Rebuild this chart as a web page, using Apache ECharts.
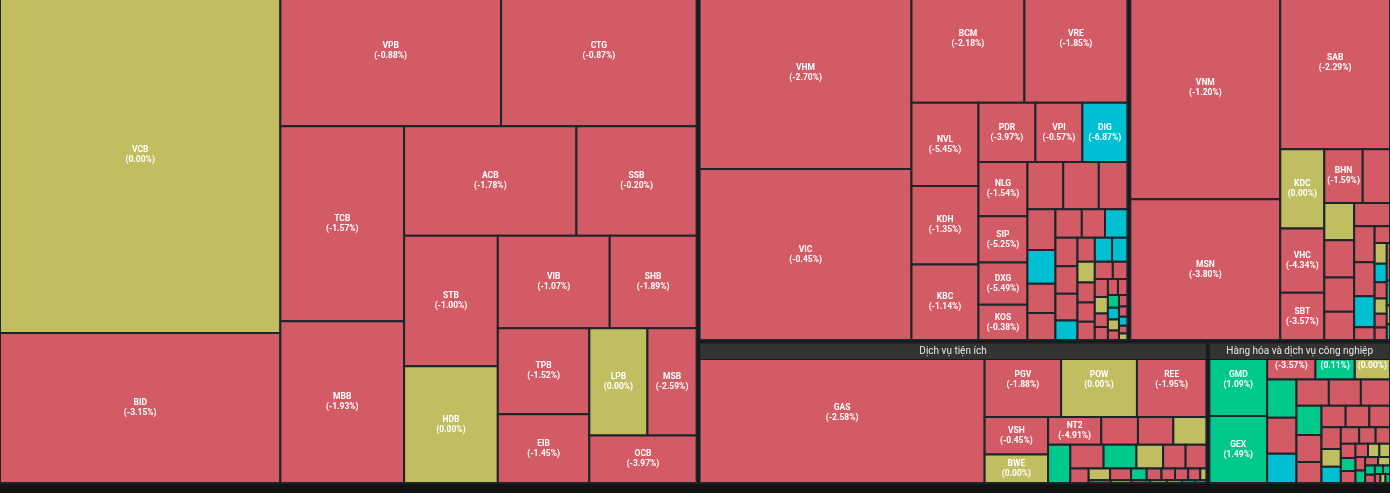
<!DOCTYPE html>
<html>
<head>
<meta charset="utf-8">
<script src="https://cdn.jsdelivr.net/npm/echarts@6.0.0/dist/echarts.min.js"></script>
<style>
html,body{margin:0;padding:0;background:#131313;}
#chart{width:1390px;height:493px;}
</style>
</head>
<body>
<div id="chart"></div>
<script>
// ---------------- DATA (sizes in arbitrary units, change in %) ----------------
// null name = cell too small to carry a label; '' = name hidden under the group header
const bankNames   = ['VCB','BID','VPB','CTG','TCB','MBB','ACB','SSB','STB','HDB','VIB','SHB','TPB','EIB','LPB','MSB','OCB'];
const bankValues  = [99600,41850,33000,29250,23990,19930,18750,13080,12180,10880,10300,8000,7850,6250,6200,5250,5080];
const bankChanges = [0.00,-3.15,-0.88,-0.87,-1.57,-1.93,-1.78,-0.20,-1.00,0.00,-1.07,-1.89,-1.52,-1.45,0.00,-2.59,-3.97];

const reNames   = ['VHM','VIC','BCM','VRE','NVL','KDH','KBC','PDR','VPI','DIG','NLG','SIP','DXG','KOS',
  null,null,null,null,null,null,null,null,null,null,null,null,null,null,null,null,null,null,null,
  null,null,null,null,null,null,null,null,null,null,null,null,null,null,null,null,null,null,null];
const reValues  = [40700,36040,14240,12980,5560,5230,5030,3360,2770,2655,2645,2250,2060,1715,
  1680,1670,1340,1135,940,815,755,750,660,635,625,600,585,430,415,410,365,360,345,330,315,310,
  250,235,215,175,170,160,150,140,130,120,105,95,85,75,65,55];
const reChanges = [-2.70,-0.45,-2.18,-1.85,-5.45,-1.35,-1.14,-3.97,-0.57,-6.87,-1.54,-5.25,-5.49,-0.38,
  -2.10,-1.35,-3.20,-0.95,-6.95,-2.60,-1.80,-4.10,-0.70,-6.90,-2.25,-1.10,-3.45,-6.98,-1.65,-6.92,-6.94,0.00,-2.80,-0.60,-1.95,-3.70,
  -1.25,-2.40,0.00,-0.85,-4.60,-1.40,-2.95,0.85,-6.90,0.00,-1.75,-3.05,-0.55,-6.93,-2.20,0.00];

const foodNames   = ['VNM','MSN','SAB','KDC','VHC','SBT','BHN',
  null,null,null,null,null,null,null,null,null,null,null,null,null,null,null,null,null,null,null,null,null];
const foodValues  = [33300,21000,18920,3476,2816,2068,2052,
  1458,1110,1100,1020,840,830,735,693,630,260,255,250,224,196,182,168,150,120,80,60,50];
const foodChanges = [-1.20,-3.80,-2.29,0.00,-4.34,-3.57,-1.59,
  -1.30,0.00,-2.15,-0.75,-3.40,-1.05,-2.60,-1.85,-6.90,-0.95,-2.30,0.00,-6.95,-1.60,0.00,-3.10,-0.65,-2.05,1.20,0.00,0.90];

const utilNames   = ['GAS','PGV','POW','REE','VSH','BWE','NT2',
  null,null,null,null,null,null,null,null,null,null,null,null,null,null,null,null,null,null,null,null,null,null,null,null,null];
const utilValues  = [39700,5640,5590,5120,2360,1800,1465,
  1010,975,910,845,785,775,630,530,490,265,250,245,183,173,158,153,142,71,61,56,51,46,41,36,31];
const utilChanges = [-2.58,-1.88,0.00,-1.95,-0.45,0.00,-4.91,
  -1.45,-2.30,0.00,0.95,-0.80,1.35,0.00,-2.70,-1.15,-3.60,0.00,-0.90,0.65,-2.05,-1.30,-0.70,-2.90,0.00,-1.60,0.00,-0.95,0.00,0.00,0.75,-1.20];

const indNames   = ['GMD','GEX','','','',
  null,null,null,null,null,null,null,null,null,
  null,null,null,null,null,null,null,null,null,null,null,null,null,null,null,null,null,null,null,null,null,null,null,null,null,null];
const indValues  = [4200,3850,1755,1430,1280,
  1110,1055,850,845,835,760,727,677,520,
  515,505,440,420,340,315,300,270,235,210,190,175,165,150,140,130,120,110,100,90,80,70,60,50,45,40];
const indChanges = [1.09,1.49,-3.57,0.11,0.00,
  0.75,-1.85,-6.95,-2.40,-1.10,-3.25,1.40,-0.95,-2.15,
  -1.50,-0.85,-2.60,-1.20,0.00,-6.90,-3.05,-0.70,-1.95,-2.45,0.60,-1.35,-0.90,0.00,0.00,-2.20,1.05,-1.70,0.00,0.85,-0.60,1.50,0.45,-1.10,0.00,0.70];

const groupNames = ['Ngân hàng','Bất động sản','Thực phẩm và đồ uống','Dịch vụ tiện ích','Hàng hóa và dịch vụ công nghiệp'];

// ---------------- STYLE / LAYOUT CONSTANTS ----------------
const W = 1390, TOP = -24, BOTTOM = 483, GAP = 3, HEADER_H = 16.5;
const RED = '#d35b65', OLIVE = '#c0be60', CYAN = '#00bfd3', GREEN = '#00c98b', PURPLE = '#b05fd6';
const BORDER = '#1b252a';

const groups = [
  {names: bankNames, values: bankValues, changes: bankChanges},
  {names: reNames,   values: reValues,   changes: reChanges},
  {names: foodNames, values: foodValues, changes: foodChanges},
  {names: utilNames, values: utilValues, changes: utilChanges},
  {names: indNames,  values: indValues,  changes: indChanges}
].map((g, i) => Object.assign(g, {title: groupNames[i]}));

function tone(ch) {
  if (ch <= -6.5) return CYAN;
  if (ch >= 6.5) return PURPLE;
  if (ch > 0) return GREEN;
  if (ch < 0) return RED;
  return OLIVE;
}
const sum = a => a.reduce((s, v) => s + v, 0);

// Squarified layout with alternating strip direction (vertical first)
function squarify(values, x0, y0, x1, y1) {
  const order = values.map((v, i) => i).sort((a, b) => values[b] - values[a]);
  const total = sum(values);
  let rx = x0, ry = y0, rw = x1 - x0, rh = y1 - y0;
  const scale = rw * rh / total;
  const rects = new Array(values.length);
  let dir = 0, strip = [], stripArea = 0;
  const ar = (a, b) => Math.max(a / b, b / a);
  function place(last) {
    if (dir === 0) {
      const sw = last ? rw : stripArea / rh;
      let yy = ry;
      strip.forEach(i => {
        const eh = rh * values[i] * scale / stripArea;
        rects[i] = [rx, yy, rx + sw, yy + eh]; yy += eh;
      });
      rx += sw; rw -= sw;
    } else {
      const sh = last ? rh : stripArea / rw;
      let xx = rx;
      strip.forEach(i => {
        const ew = rw * values[i] * scale / stripArea;
        rects[i] = [xx, ry, xx + ew, ry + sh]; xx += ew;
      });
      ry += sh; rh -= sh;
    }
    dir = 1 - dir; strip = []; stripArea = 0;
  }
  order.forEach(i => {
    const a = values[i] * scale;
    if (strip.length) {
      const p = values[strip[strip.length - 1]] * scale;
      const L = dir === 0 ? rh : rw;
      const oldT = stripArea / L, newT = (stripArea + a) / L;
      if (ar(newT, p / newT) > ar(oldT, p / oldT)) place(false);
    }
    strip.push(i); stripArea += a;
  });
  if (strip.length) place(true);
  return rects;
}

// Group arrangement: first group as a full-height column, the rest in two rows
const tot = groups.map(g => sum(g.values));
const B = tot[0], R = tot[1] + tot[2] + tot[3] + tot[4];
const H = BOTTOM - TOP;
const bw = B * (W - 2 * GAP) * (H - GAP) / (H * R + B * (H - GAP));
const rx0 = bw + GAP, rInner = W - rx0 - GAP;
const topH = (H - GAP) * (tot[1] + tot[2]) / R;
const xa = rx0 + rInner * tot[1] / (tot[1] + tot[2]);
const xb = rx0 + rInner * tot[3] / (tot[3] + tot[4]);
const yb = TOP + topH + GAP;
const boxes = [
  [0, TOP, bw, BOTTOM],
  [rx0, TOP, xa, TOP + topH],
  [xa + GAP, TOP, W, TOP + topH],
  [rx0, yb, xb, BOTTOM],
  [xb + GAP, yb, W, BOTTOM]
];

const cells = [];
groups.forEach((g, gi) => {
  const b = boxes[gi];
  const rects = squarify(g.values, b[0], b[1], b[2], b[3]);
  rects.forEach((r, i) => {
    cells.push({value: [r[0], r[1], r[2], r[3], g.changes[i]], label: g.names[i], group: g.title});
  });
});
// group headers (only those inside the visible frame; the top row is scrolled past its headers)
const headers = [];
groups.forEach((g, gi) => {
  const b = boxes[gi];
  if (b[1] >= 0) headers.push({value: [b[0], b[1], b[2], b[1] + HEADER_H], label: g.title});
});

const chart = echarts.init(document.getElementById('chart'));
chart.setOption({
  backgroundColor: '#131313',
  animation: false,
  grid: {left: 0, top: 0, width: W, height: BOTTOM},
  xAxis: {type: 'value', min: 0, max: W, show: false},
  yAxis: {type: 'value', min: 0, max: BOTTOM, inverse: true, show: false},
  series: [
    {
      type: 'custom',
      coordinateSystem: 'cartesian2d',
      clip: false,
      data: cells,
      renderItem: function (params, api) {
        const p0 = api.coord([api.value(0), api.value(1)]);
        const p1 = api.coord([api.value(2), api.value(3)]);
        const ch = api.value(4);
        const c = cells[params.dataIndex];
        const w = p1[0] - p0[0], h = p1[1] - p0[1];
        const children = [{
          type: 'rect',
          shape: {x: p0[0], y: p0[1], width: w, height: h},
          style: {fill: tone(ch), stroke: BORDER, lineWidth: 2}
        }];
        if (c.label !== null && c.label !== undefined) {
          children.push({
            type: 'text',
            style: {
              text: c.label + '\n(' + ch.toFixed(2) + '%)',
              x: p0[0] + w / 2, y: p0[1] + h / 2,
              align: 'center', verticalAlign: 'middle',
              fill: '#ffffff', fontSize: 8.5, fontWeight: 'bold',
              fontFamily: 'Roboto, Arial, sans-serif', lineHeight: 10
            }
          });
        }
        return {type: 'group', children: children};
      }
    },
    {
      type: 'custom',
      coordinateSystem: 'cartesian2d',
      clip: false,
      data: headers,
      z: 5,
      renderItem: function (params, api) {
        const p0 = api.coord([api.value(0), api.value(1)]);
        const p1 = api.coord([api.value(2), api.value(3)]);
        const w = p1[0] - p0[0], h = p1[1] - p0[1];
        return {type: 'group', children: [
          {type: 'rect', shape: {x: p0[0], y: p0[1], width: w, height: h},
           style: {fill: '#333333', stroke: '#1a1a1a', lineWidth: 1}},
          {type: 'text', style: {
            text: headers[params.dataIndex].label,
            x: p0[0] + w / 2, y: p0[1] + h / 2 + 0.5,
            align: 'center', verticalAlign: 'middle',
            fill: '#e6e6e6', fontSize: 10, fontFamily: 'Roboto, Arial, sans-serif'
          }}
        ]};
      }
    }
  ]
});
</script>
</body>
</html>
